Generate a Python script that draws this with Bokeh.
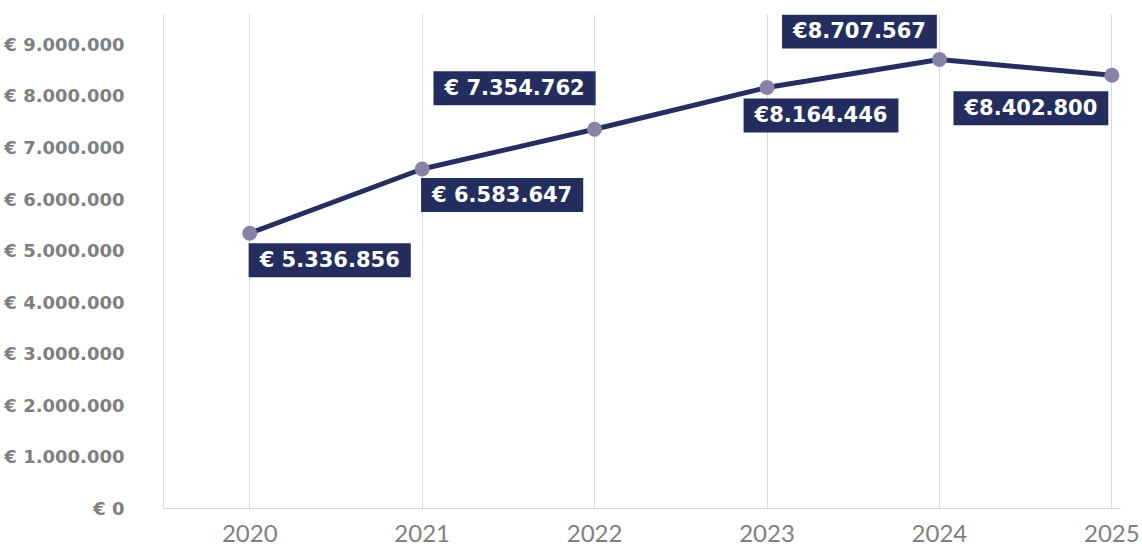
from bokeh.plotting import figure
from bokeh.models import Range1d, FixedTicker, Label
from bokeh.embed import file_html
from bokeh.resources import INLINE

years = [2020, 2021, 2022, 2023, 2024, 2025]
values = [5336856, 6583647, 7354762, 8164446, 8707567, 8402800]
value_labels = ["€ 5.336.856", "€ 6.583.647", "€ 7.354.762", "€8.164.446", "€8.707.567", "€8.402.800"]
y_ticks = [0, 1000000, 2000000, 3000000, 4000000, 5000000, 6000000, 7000000, 8000000, 9000000]


def euro(v):
    return "€ 0" if v == 0 else "€ " + f"{v:,}".replace(",", ".")


# label box offsets in screen pixels (dx, dy up)
offsets = [(80, -27), (80, -26), (-80, 41), (54, -28), (-80, 28), (-81, -33)]

p = figure(width=1142, height=547, output_backend="svg", toolbar_location=None,
           x_range=Range1d(2019.5, 2025.05), y_range=Range1d(0, 9.58e6),
           min_border_left=163, min_border_right=22, min_border_top=14, min_border_bottom=39)
p.outline_line_color = None
p.background_fill_color = "white"
p.border_fill_color = "white"

p.xaxis.ticker = FixedTicker(ticks=years)
p.xaxis.axis_line_color = "#d9d9d9"
p.xaxis.major_tick_line_color = None
p.xaxis.minor_tick_line_color = None
p.xaxis.major_label_text_font = "Lato"
p.xaxis.major_label_text_font_size = "24px"
p.xaxis.major_label_text_color = "#808080"
p.xaxis.major_label_standoff = 10

p.yaxis.ticker = FixedTicker(ticks=y_ticks)
p.yaxis.major_label_overrides = {v: euro(v) for v in y_ticks}
p.yaxis.axis_line_color = "#d9d9d9"
p.yaxis.major_tick_line_color = None
p.yaxis.minor_tick_line_color = None
p.yaxis.major_label_text_font = "DejaVu Sans"
p.yaxis.major_label_text_font_size = "18px"
p.yaxis.major_label_text_font_style = "bold"
p.yaxis.major_label_text_color = "#7f7f7f"
p.yaxis.major_label_standoff = 33

p.xgrid.ticker = FixedTicker(ticks=years)
p.xgrid.grid_line_color = "#d9d9d9"
p.xgrid.grid_line_width = 1
p.ygrid.grid_line_color = None

p.line(years, values, line_color="#252f5f", line_width=5)
p.scatter(years, values, size=15, fill_color="#8783a6", line_color=None)

for yr, v, t, (dx, dy) in zip(years, values, value_labels, offsets):
    p.add_layout(Label(x=yr, y=v, x_offset=dx, y_offset=dy, text=t,
                       text_align="center", text_baseline="middle",
                       text_font="DejaVu Sans", text_font_style="bold", text_font_size="21px",
                       text_color="white", background_fill_color="#242e5e",
                       padding=dict(left=11, right=11, top=5, bottom=5)))

open("out.html", "w").write(file_html(p, INLINE))
